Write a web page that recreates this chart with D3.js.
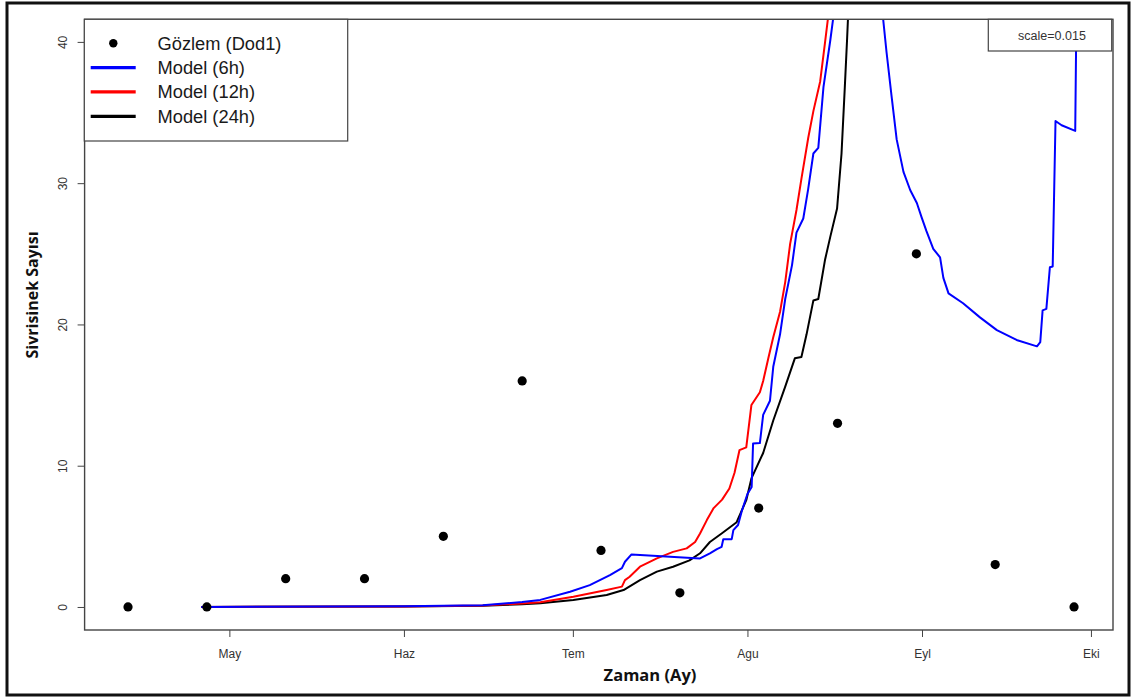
<!DOCTYPE html>
<html>
<head>
<meta charset="utf-8">
<script src="https://cdn.jsdelivr.net/npm/d3@7"></script>
<style>
  html, body { margin: 0; padding: 0; background: #fff; }
  svg { display: block; }
</style>
</head>
<body>
<svg id="chart" width="1132" height="697"></svg>
<script>
// ---------------- DATA ----------------
const monthTickDates = ["2023-05-01", "2023-06-01", "2023-07-01", "2023-08-01", "2023-09-01", "2023-10-01"];
const monthTickLabels = ["May", "Haz", "Tem", "Agu", "Eyl", "Eki"];
const yTickValues = [0, 10, 20, 30, 40];
const xDomainDates = ["2023-04-05T07:00", "2023-10-04T22:00"];
const yDomainValues = [-1.63, 41.6];

const obsDates = ["2023-04-13", "2023-04-27", "2023-05-11", "2023-05-25", "2023-06-08", "2023-06-22",
  "2023-07-06", "2023-07-20", "2023-08-03", "2023-08-17", "2023-08-31", "2023-09-14", "2023-09-28"];
const obsValues = [0, 0, 2, 2, 5, 16, 4, 1, 7, 13, 25, 3, 0];

const model6hDates = ["2023-04-26T00:00", "2023-06-01T00:00", "2023-06-15T00:00", "2023-06-22T00:00", "2023-06-25T05:00",
  "2023-06-30T12:00", "2023-07-04T00:00", "2023-07-07T14:00", "2023-07-09T17:00", "2023-07-10T06:00", "2023-07-11T10:00",
  "2023-07-23T14:00", "2023-07-25T08:00", "2023-07-26T14:00", "2023-07-27T10:00", "2023-07-27T17:00", "2023-07-29T05:00",
  "2023-07-29T12:00", "2023-07-30T08:00", "2023-07-31T00:00", "2023-08-01T00:00", "2023-08-01T18:00", "2023-08-02T00:00",
  "2023-08-03T05:00", "2023-08-03T19:00", "2023-08-05T00:00", "2023-08-05T14:00", "2023-08-06T19:00", "2023-08-07T17:00",
  "2023-08-08T22:00", "2023-08-09T17:00", "2023-08-10T22:00", "2023-08-11T19:00", "2023-08-12T17:00", "2023-08-13T14:00",
  "2023-08-14T12:00", "2023-08-15T17:00", "2023-08-17T00:00", "2023-08-21T00:00", "2023-08-25T00:00", "2023-08-25T17:00",
  "2023-08-26T14:00", "2023-08-27T12:00", "2023-08-28T17:00", "2023-08-29T22:00", "2023-08-31T02:00", "2023-08-31T22:00",
  "2023-09-01T19:00", "2023-09-03T00:00", "2023-09-04T05:00", "2023-09-04T19:00", "2023-09-05T17:00", "2023-09-08T07:00",
  "2023-09-11T07:00", "2023-09-14T07:00", "2023-09-17T19:00", "2023-09-21T10:00", "2023-09-22T00:00", "2023-09-22T10:00",
  "2023-09-23T02:00", "2023-09-23T17:00", "2023-09-24T05:00", "2023-09-24T17:00", "2023-09-25T19:00", "2023-09-28T05:00",
  "2023-09-28T12:00"];
const model6hValues = [0, 0.05, 0.12, 0.35, 0.5,
  1.08, 1.55, 2.26, 2.75, 3.2, 3.72,
  3.44, 3.8, 4.1, 4.26, 4.8, 4.8,
  5.44, 5.8, 6.8, 8.0, 8.5, 11.57,
  11.6, 13.6, 14.6, 17.0, 19.3, 21.8,
  24.2, 26.5, 27.5, 29.6, 32.1, 32.5,
  36.8, 40.1, 44, 60, 42, 39.25,
  36.2, 33.1, 30.8, 29.5, 28.6, 27.6,
  26.6, 25.35, 24.75, 23.3, 22.2, 21.5,
  20.5, 19.6, 18.9, 18.45, 18.75, 21.0,
  21.1, 24.05, 24.1, 34.4, 34.1, 33.7,
  45];

const model12hDates = ["2023-04-26T00:00", "2023-06-01T00:00", "2023-06-15T00:00", "2023-06-22T00:00", "2023-06-25T05:00",
  "2023-07-01T02:00", "2023-07-07T00:00", "2023-07-09T17:00", "2023-07-10T06:00", "2023-07-11T02:00", "2023-07-12T22:00",
  "2023-07-15T22:00", "2023-07-18T19:00", "2023-07-21T05:00", "2023-07-22T17:00", "2023-07-23T14:00", "2023-07-24T19:00",
  "2023-07-26T00:00", "2023-07-27T12:00", "2023-07-28T19:00", "2023-07-29T17:00", "2023-07-30T14:00", "2023-07-31T19:00",
  "2023-08-01T17:00", "2023-08-03T05:00", "2023-08-03T19:00", "2023-08-04T17:00", "2023-08-05T14:00", "2023-08-06T19:00",
  "2023-08-07T17:00", "2023-08-08T14:00", "2023-08-09T17:00", "2023-08-10T14:00", "2023-08-11T19:00", "2023-08-12T17:00",
  "2023-08-13T22:00", "2023-08-14T19:00", "2023-08-15T17:00", "2023-08-20T00:00"];
const model12hValues = [0, 0.04, 0.1, 0.25, 0.33,
  0.73, 1.2, 1.44, 1.9, 2.14, 2.85,
  3.44, 3.9, 4.15, 4.6, 5.2, 6.15,
  7.0, 7.6, 8.39, 9.5, 11.1, 11.3,
  14.3, 15.2, 16.0, 17.6, 19.1, 20.9,
  23.0, 25.7, 28.1, 30.3, 33.2, 35.1,
  37.2, 40.0, 43, 60];

const model24hDates = ["2023-04-26T00:00", "2023-06-01T00:00", "2023-06-15T00:00", "2023-06-22T00:00", "2023-06-25T05:00",
  "2023-07-01T02:00", "2023-07-07T00:00", "2023-07-10T00:00", "2023-07-12T22:00", "2023-07-15T22:00", "2023-07-18T19:00",
  "2023-07-21T17:00", "2023-07-23T14:00", "2023-07-25T08:00", "2023-07-27T10:00", "2023-07-30T02:00", "2023-07-31T19:00",
  "2023-08-01T17:00", "2023-08-03T19:00", "2023-08-05T14:00", "2023-08-07T17:00", "2023-08-09T10:00", "2023-08-10T14:00",
  "2023-08-11T12:00", "2023-08-12T17:00", "2023-08-13T14:00", "2023-08-14T19:00", "2023-08-15T17:00", "2023-08-16T22:00",
  "2023-08-17T17:00", "2023-08-18T07:00", "2023-08-18T17:00", "2023-08-19T00:00", "2023-08-21T00:00"];
const model24hValues = [0, 0.03, 0.08, 0.2, 0.26,
  0.5, 0.85, 1.2, 1.9, 2.5, 2.85,
  3.3, 3.8, 4.6, 5.2, 6.0, 7.56,
  9.1, 10.9, 13.2, 15.6, 17.6, 17.7,
  19.3, 21.7, 21.8, 24.6, 26.2, 28.2,
  32.1, 36.8, 40.3, 43, 60];

const seriesNames = ["Model (6h)", "Model (12h)", "Model (24h)"];
const seriesColors = ["#0000ff", "#ff0000", "#000000"];
const obsName = "Gözlem (Dod1)";
const scaleText = "scale=0.015";
const xTitle = "Zaman (Ay)";
const yTitle = "Sivrisinek Sayısı";

// ---------------- DRAW ----------------
const svg = d3.select("#chart");
const plot = { left: 84.6, right: 1113, top: 19.3, bottom: 630 };
const parse = s => new Date(s);

const x = d3.scaleTime().domain(xDomainDates.map(parse)).range([plot.left, plot.right]);
const y = d3.scaleLinear().domain(yDomainValues).range([plot.bottom, plot.top]);

svg.append("rect").attr("width", 1132).attr("height", 697).attr("fill", "#fff");

// outer frame
svg.append("rect").attr("x", 7).attr("y", 3).attr("width", 1122).attr("height", 692)
  .attr("fill", "none").attr("stroke", "#111").attr("stroke-width", 3);

svg.append("clipPath").attr("id", "clip").append("rect")
  .attr("x", plot.left).attr("y", plot.top)
  .attr("width", plot.right - plot.left).attr("height", plot.bottom - plot.top);

const g = svg.append("g").attr("clip-path", "url(#clip)");

const modelData = [
  model6hDates.map((d, i) => ({ date: parse(d), value: model6hValues[i] })),
  model12hDates.map((d, i) => ({ date: parse(d), value: model12hValues[i] })),
  model24hDates.map((d, i) => ({ date: parse(d), value: model24hValues[i] }))
];
const line = d3.line().x(d => x(d.date)).y(d => y(d.value));

[2, 1, 0].forEach(i => {
  g.append("path").datum(modelData[i])
    .attr("d", line)
    .attr("fill", "none")
    .attr("stroke", seriesColors[i])
    .attr("stroke-width", 2)
    .attr("stroke-linejoin", "round");
});

g.selectAll("circle.obs").data(obsDates.map((d, i) => ({ date: parse(d), value: obsValues[i] })))
  .enter().append("circle")
  .attr("cx", d => x(d.date)).attr("cy", d => y(d.value)).attr("r", 4.6)
  .attr("fill", "#000");

// axes
const xAxis = d3.axisBottom(x)
  .tickValues(monthTickDates.map(parse))
  .tickFormat((d, i) => monthTickLabels[i])
  .tickSize(7).tickPadding(12);
const xg = svg.append("g").attr("transform", `translate(0,${plot.bottom})`).call(xAxis);
xg.select(".domain").remove();
xg.selectAll("line").attr("stroke", "#444");
xg.selectAll("text").attr("font-family", "Liberation Sans, Arial, sans-serif")
  .attr("font-size", 12).attr("fill", "#333");

const yAxis = d3.axisLeft(y).tickValues(yTickValues).tickSize(7).tickPadding(0);
const yg = svg.append("g").attr("transform", `translate(${plot.left},0)`).call(yAxis);
yg.select(".domain").remove();
yg.selectAll("line").attr("stroke", "#444");
yg.selectAll("text")
  .attr("font-family", "Liberation Sans, Arial, sans-serif")
  .attr("font-size", 12).attr("fill", "#333")
  .attr("x", null)
  .attr("text-anchor", "middle")
  .attr("transform", "translate(-22,0) rotate(-90)")
  .attr("y", 0)
  .attr("dy", "0.35em");

// plot box
svg.append("rect")
  .attr("x", plot.left).attr("y", plot.top)
  .attr("width", plot.right - plot.left).attr("height", plot.bottom - plot.top)
  .attr("fill", "none").attr("stroke", "#444").attr("stroke-width", 1.4);

// axis titles
svg.append("text").attr("x", 650).attr("y", 681)
  .attr("text-anchor", "middle")
  .attr("font-family", "Open Sans, sans-serif").attr("font-weight", "bold")
  .attr("font-size", 16.5).attr("fill", "#111")
  .text(xTitle);

svg.append("text")
  .attr("transform", "translate(37.5,295) rotate(-90)")
  .attr("text-anchor", "middle")
  .attr("font-family", "Open Sans, sans-serif").attr("font-weight", "bold")
  .attr("font-size", 16).attr("fill", "#111")
  .text(yTitle);

// legend
const lg = svg.append("g");
lg.append("rect").attr("x", 84.3).attr("y", 19.3).attr("width", 263.4).attr("height", 121.7)
  .attr("fill", "#fff").attr("stroke", "#444").attr("stroke-width", 1.2);
const rowY = [43.3, 67.7, 91.9, 116.3];
lg.append("circle").attr("cx", 113.3).attr("cy", rowY[0]).attr("r", 4.2).attr("fill", "#000");
seriesNames.forEach((n, i) => {
  lg.append("line").attr("x1", 90.7).attr("x2", 135.7)
    .attr("y1", rowY[i + 1]).attr("y2", rowY[i + 1])
    .attr("stroke", seriesColors[i]).attr("stroke-width", 3.2);
});
[obsName].concat(seriesNames).forEach((n, i) => {
  lg.append("text").attr("x", 157.5).attr("y", rowY[i]).attr("dy", "0.36em")
    .attr("font-family", "Liberation Sans, Arial, sans-serif").attr("font-size", 18.3)
    .attr("fill", "#1a1a1a").text(n);
});

// scale box
svg.append("rect").attr("x", 988.3).attr("y", 19.3).attr("width", 123.4).attr("height", 31.7)
  .attr("fill", "#fff").attr("stroke", "#444").attr("stroke-width", 1.2);
svg.append("text").attr("x", 1052).attr("y", 35.5).attr("dy", "0.35em")
  .attr("text-anchor", "middle")
  .attr("font-family", "Liberation Sans, Arial, sans-serif").attr("font-size", 12.5)
  .attr("fill", "#333").text(scaleText);
</script>
</body>
</html>
